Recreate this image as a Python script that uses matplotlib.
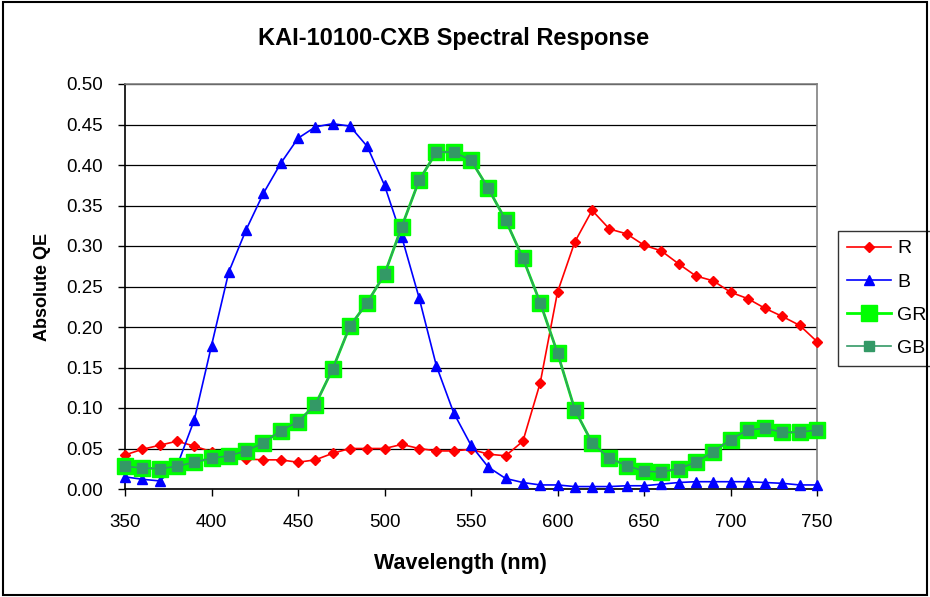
import numpy as np
import matplotlib
matplotlib.use('Agg')
from matplotlib import pyplot as plt
from matplotlib.patches import Rectangle

plt.rcParams['font.family'] = ['Liberation Sans', 'DejaVu Sans']

wavelength = list(range(350, 751, 10))  # 41 samples, every 10 nm

qe_r = [0.042, 0.049, 0.054, 0.059, 0.053, 0.046, 0.040, 0.037, 0.036, 0.036,
        0.033, 0.036, 0.044, 0.050, 0.050, 0.050, 0.055, 0.050, 0.047, 0.047,
        0.049, 0.043, 0.041, 0.059, 0.131, 0.243, 0.305, 0.344, 0.321, 0.315,
        0.301, 0.294, 0.278, 0.263, 0.257, 0.243, 0.235, 0.223, 0.213, 0.202,
        0.182]
qe_b = [0.015, 0.012, 0.010, 0.028, 0.085, 0.177, 0.268, 0.320, 0.365, 0.402,
        0.433, 0.447, 0.451, 0.448, 0.423, 0.375, 0.311, 0.236, 0.152, 0.094,
        0.054, 0.027, 0.013, 0.008, 0.005, 0.005, 0.003, 0.003, 0.003, 0.004,
        0.004, 0.006, 0.008, 0.009, 0.009, 0.009, 0.009, 0.008, 0.007, 0.005,
        0.005]
qe_g = [0.028, 0.026, 0.025, 0.028, 0.033, 0.038, 0.041, 0.047, 0.057, 0.072,
        0.083, 0.104, 0.148, 0.201, 0.230, 0.265, 0.324, 0.381, 0.416, 0.416,
        0.406, 0.371, 0.332, 0.285, 0.230, 0.168, 0.098, 0.057, 0.038, 0.029,
        0.022, 0.021, 0.025, 0.033, 0.046, 0.061, 0.073, 0.075, 0.070, 0.070,
        0.073]
qe_gr = qe_g
qe_gb = qe_g

fig = plt.figure(figsize=(9.3, 5.97), dpi=100)
ax = fig.add_axes([125 / 930, 1 - 489 / 597, 692 / 930, 405 / 597])

ax.plot(wavelength, qe_r, color='#FF0000', marker='D', markersize=5.5,
        linewidth=1.2, label='R', zorder=3, clip_on=False)
ax.plot(wavelength, qe_b, color='#0000FF', marker='^', markersize=7,
        linewidth=1.2, label='B', zorder=3, clip_on=False)
ax.plot(wavelength, qe_gr, color='#00FF00', marker='s', markersize=11,
        linewidth=2, label='GR', zorder=4, clip_on=False)
ax.plot(wavelength, qe_gb, color='#339966', marker='s', markersize=6.5,
        linewidth=1.2, label='GB', zorder=5, clip_on=False)

ax.set_xlim(350, 750)
ax.set_ylim(0, 0.5)
ax.set_xticks(range(350, 751, 50))
ax.set_yticks(np.arange(0, 0.501, 0.05))
ax.yaxis.set_major_formatter(plt.FormatStrFormatter('%.2f'))
ax.tick_params(labelsize=13.5, direction='out', length=5, width=1)
ax.tick_params(axis='y', pad=11)
ax.tick_params(axis='x', pad=13)
ax.grid(axis='y', color='black', linewidth=0.9)
ax.set_axisbelow(True)

for side in ['top', 'right']:
    ax.spines[side].set_color('#808080')
    ax.spines[side].set_linewidth(1.2)
for side in ['left', 'bottom']:
    ax.spines[side].set_color('black')
    ax.spines[side].set_linewidth(1.2)

# title and x label sit a bit left of the plot centre, like the Excel original
ax.set_title('KAI-10100-CXB Spectral Response', fontsize=17, fontweight='bold',
             pad=28, x=0.475)
ax.set_xlabel('Wavelength (nm)', fontsize=15.5, fontweight='bold', labelpad=16, x=0.485)
ax.set_ylabel('Absolute QE', fontsize=13, fontweight='bold', labelpad=11)

leg = ax.legend(loc='upper left', bbox_to_anchor=(1.03, 0.637), fontsize=14,
                frameon=True, fancybox=False, edgecolor='black',
                handlelength=2.3, labelspacing=0.8, borderpad=0.45,
                handletextpad=0.3, borderaxespad=0)
leg.get_frame().set_linewidth(1)

fig.patches.append(Rectangle((0.003, 0.003), 0.994, 0.994, transform=fig.transFigure,
                             fill=False, edgecolor='black', linewidth=1.5))

fig.savefig('out.png', dpi=100)
